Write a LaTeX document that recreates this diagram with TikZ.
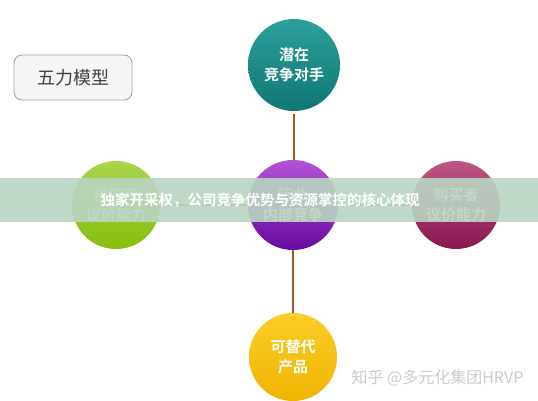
\documentclass[tikz,border=0pt]{standalone}
\usepackage{fontspec}
\setmainfont{Noto Sans CJK SC}
\newfontfamily\cjkb{Noto Sans CJK SC Bold}
\usetikzlibrary{shapes.geometric}
\definecolor{linebrown}{RGB}{160,90,45}
\definecolor{bandgreen}{RGB}{186,212,194}
\tikzset{
  force/.style={circle, minimum size=90pt, inner sep=0pt, align=center,
    text=white, font=\cjkb\fontsize{15}{20}\selectfont},
  link/.style={draw=linebrown, line width=2.6pt},
}
\begin{document}
\begin{tikzpicture}[x=1pt,y=-1pt]
\useasboundingbox (0,0) rectangle (538,400);
\fill[white] (0,0) rectangle (538,400);
% title box
\node[draw=gray!75, fill=gray!8, rounded corners=8pt, line width=0.8pt,
  minimum width=118pt, minimum height=45pt, text=black!75,
  font=\fontsize{18}{20}\selectfont] (title) at (73,77.5) {五力模型};
% circles
\node[force, minimum size=92pt, top color={rgb,255:red,45;green,160;blue,155}, bottom color={rgb,255:red,15;green,118;blue,115}] (top) at (294,65) {潜在\\竞争对手};
\node[force, minimum size=90pt, top color={rgb,255:red,178;green,82;blue,212}, bottom color={rgb,255:red,105;green,10;blue,160}] (mid) at (293,205) {行业\\内部竞争};
\node[force, minimum size=88pt, top color={rgb,255:red,170;green,212;blue,75}, bottom color={rgb,255:red,135;green,190;blue,15}] (left) at (116,205) {供应商\\议价能力};
\node[force, minimum size=88pt, top color={rgb,255:red,190;green,85;blue,135}, bottom color={rgb,255:red,140;green,22;blue,80}] (right) at (456,205) {购买者\\议价能力};
\node[force, minimum size=88pt, top color={rgb,255:red,250;green,205;blue,40}, bottom color={rgb,255:red,240;green,180;blue,0}] (bot) at (293,357) {可替代\\产品};
% connectors
\draw[link] (top.south) ++(0,3) coordinate (t1) -- (t1 |- mid.north);
\draw[link] (mid.south) -- (bot.north);
\draw[link] (left.east) -- (mid.west);
\draw[link] (mid.east) -- (right.west);
% banner
\fill[bandgreen, opacity=0.9] (0,178) rectangle (538,222);
\node[text=white, font=\cjkb\fontsize{14.5}{16}\selectfont] (banner) at (260,200) {独家开采权，公司竞争优势与资源掌控的核心体现};
% watermark
\node[text=gray!40, font=\fontsize{16}{18}\selectfont, anchor=west] (wm) at (348,378) {知乎 @多元化集团HRVP};
\end{tikzpicture}
\end{document}
